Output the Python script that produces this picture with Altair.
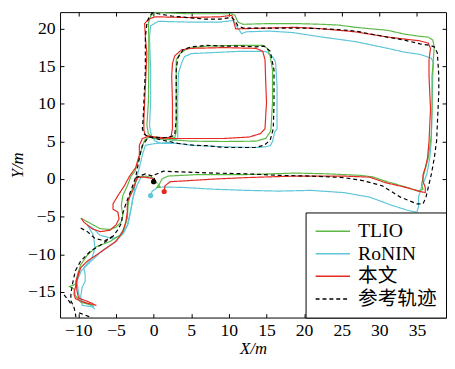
import altair as alt
import pandas as pd

SERIES = ["TLIO", "RoNIN", "本文", "参考轨迹"]
COLORS = ["#5cb946", "#5ec6d9", "#e52a24", "#000000"]
DASHES = [[1, 0], [1, 0], [1, 0], [4, 3]]
XTICKS = [-10, -5, 0, 5, 10, 15, 20, 25, 30, 35]
YTICKS = [-15, -10, -5, 0, 5, 10, 15, 20]

# ---- trajectories (x, y in metres) ----
tlio_segments = [
    [(0.65, -0.9), (1.1, 0.0), (1.9, 0.4), (5.8, 0.6), (12.3, 0.6), (18.8, 0.8), (23.1, 0.7),
     (27.4, 0.5), (29.1, 0.3), (30.9, -0.3), (33.5, -1.05), (35.2, -1.6), (35.8, -1.35),
     (35.6, -0.7), (35.9, 0.6), (36.5, 2.8), (36.9, 5.8), (37.0, 9.3), (37.0, 13.7), (37.2, 16.3),
     (37.3, 17.6), (37.1, 18.5), (36.5, 18.9), (35.4, 19.0), (33.3, 19.3), (31.1, 19.8),
     (28.9, 20.0), (26.8, 20.2), (24.6, 20.5), (22.4, 20.6), (18.8, 20.7), (15.3, 20.7),
     (11.9, 20.6), (11.2, 20.9), (10.8, 21.8), (10.4, 22.0), (8.8, 22.0), (4.5, 22.0),
     (0.2, 22.2), (-0.4, 21.7), (-0.7, 20.7), (-0.65, 18.9), (-0.65, 14.5), (-0.7, 10.2),
     (-0.9, 7.15), (-0.7, 6.05), (0.0, 5.4), (2.8, 5.2), (5.0, 5.05), (9.3, 5.0), (13.6, 5.05),
     (14.9, 5.4), (15.5, 6.3), (15.6, 6.7), (15.7, 8.5), (15.8, 10.2), (15.8, 14.5), (15.5, 16.3),
     (15.1, 17.4), (14.5, 17.8), (11.4, 17.8), (7.1, 17.7), (4.5, 17.4), (3.5, 16.7), (3.0, 15.9),
     (3.0, 15.0), (3.0, 10.6), (3.0, 6.3), (2.8, 5.5), (1.0, 5.5), (-0.6, 5.6), (-1.2, 5.2),
     (-1.6, 4.0), (-2.0, 2.5), (-2.5, 1.0), (-3.0, 0.4), (-3.5, -0.9), (-4.1, -2.2), (-4.3, -3.5),
     (-4.1, -4.8), (-4.3, -5.7), (-5.0, -6.4), (-5.8, -6.7), (-7.1, -6.6), (-8.4, -5.9),
     (-9.7, -5.2)],
    [(0.5, -0.6), (0.0, 0.1), (-1.0, 0.4), (-2.0, 0.3), (-2.6, -0.8), (-3.2, -2.2), (-3.4, -3.6),
     (-3.5, -5.2), (-3.9, -6.5), (-4.5, -7.5), (-5.8, -8.3), (-7.6, -9.0), (-8.8, -10.1),
     (-9.7, -11.4), (-10.1, -12.7), (-10.4, -14.0), (-11.2, -14.3), (-10.6, -14.6),
     (-10.4, -15.5), (-9.7, -16.4), (-8.0, -16.8)],
]

ronin_segments = [
    [(-0.4, -2.2), (-0.2, -1.6), (0.65, -1.05), (3.7, -1.1), (8.0, -1.35), (12.3, -1.5),
     (16.6, -1.6), (20.9, -1.5), (25.3, -1.8), (28.7, -2.4), (31.7, -3.5), (33.9, -4.2),
     (35.0, -4.4), (35.2, -3.7), (35.2, -2.4), (35.6, -1.1), (36.3, 0.6), (36.7, 2.8), (36.9, 5.0),
     (37.0, 9.3), (37.1, 13.7), (37.2, 15.4), (36.9, 16.1), (35.4, 16.6), (33.3, 16.9),
     (31.1, 17.4), (26.8, 18.3), (22.4, 18.9), (18.5, 19.5), (15.3, 19.7), (12.3, 19.6),
     (11.7, 19.35), (11.0, 20.4), (10.6, 21.1), (8.8, 20.9), (4.5, 20.9), (0.65, 21.0),
     (-0.4, 20.4), (-0.55, 18.9), (-0.4, 14.5), (-0.4, 10.2), (-0.55, 7.15), (-0.3, 5.8),
     (0.2, 5.05), (1.1, 4.75), (3.2, 4.75), (5.0, 4.5), (9.3, 4.3), (13.6, 4.2), (14.9, 4.3),
     (15.5, 4.45), (15.8, 5.0), (16.1, 6.3), (16.4, 6.7), (16.4, 12.4), (16.2, 15.6), (15.8, 16.3),
     (14.9, 17.0), (11.4, 17.0), (7.1, 16.8), (5.0, 16.7), (4.1, 16.3), (3.7, 15.4), (3.3, 14.1),
     (3.2, 10.6), (3.2, 5.4), (2.0, 4.9), (0.0, 4.7), (-1.1, 4.5), (-1.5, 3.2), (-1.9, 1.5),
     (-2.4, -0.3), (-2.6, -1.8), (-3.0, -4.0), (-3.5, -6.1), (-4.3, -7.5), (-5.4, -7.9),
     (-7.1, -7.5), (-8.0, -6.6), (-8.8, -6.1)],
    [(-8.8, -6.1), (-8.0, -7.5), (-7.8, -9.2), (-8.2, -10.5), (-9.3, -11.8), (-9.1, -12.7),
     (-9.1, -13.6), (-9.5, -14.4), (-9.7, -15.7), (-9.5, -16.8), (-8.2, -17.0), (-7.8, -17.3)],
    [(-1.5, 0.6), (-2.2, -0.8), (-2.8, -2.6), (-3.1, -4.5), (-3.4, -6.0), (-4.0, -7.2),
     (-5.2, -8.4), (-6.8, -9.5), (-8.2, -10.8), (-9.6, -12.2), (-10.2, -13.6), (-10.0, -15.0),
     (-9.8, -16.0), (-8.8, -16.6), (-7.9, -17.0)],
]

ours_segments = [
    [(1.4, -1.65), (1.5, -0.9), (2.2, -0.35), (3.7, -0.26), (8.0, 0.0), (12.3, 0.2), (18.8, 0.4),
     (25.3, 0.4), (28.7, 0.26), (30.9, -0.5), (33.5, -1.1), (35.4, -1.65), (36.1, -1.8),
     (36.1, -1.1), (35.8, -0.3), (35.8, 0.6), (36.1, 1.5), (36.4, 2.8), (36.6, 5.0), (36.7, 7.2),
     (36.8, 9.3), (36.7, 11.5), (36.6, 13.7), (36.6, 15.9), (36.8, 17.4), (36.5, 18.1),
     (35.4, 18.4), (31.1, 18.9), (26.8, 19.6), (22.4, 20.0), (18.8, 20.2), (15.3, 20.1),
     (11.4, 20.0), (10.9, 20.0), (10.6, 21.1), (10.4, 21.8), (8.8, 21.6), (4.5, 21.5), (0.2, 21.6),
     (-0.65, 21.3), (-1.2, 20.7), (-1.1, 18.9), (-0.9, 16.7), (-1.0, 14.5), (-1.1, 12.4),
     (-1.2, 10.2), (-1.3, 8.0), (-1.3, 6.5), (-1.1, 5.8), (0.2, 5.6), (2.4, 5.4), (5.0, 5.4),
     (9.3, 5.4), (12.7, 5.6), (14.2, 6.05), (14.8, 6.7), (14.9, 8.5), (15.0, 10.2), (14.9, 12.8),
     (14.8, 15.9), (14.5, 17.0), (13.6, 17.4), (9.3, 17.5), (5.0, 17.4), (3.7, 17.2), (2.8, 16.4),
     (2.5, 15.4), (2.4, 13.7), (2.5, 10.2), (2.5, 6.7), (2.3, 5.6), (1.1, 5.4), (-0.65, 5.7),
     (-1.5, 5.4), (-1.9, 4.5), (-1.9, 3.2), (-2.4, 1.5), (-3.2, 0.4), (-3.9, -0.9), (-4.75, -2.2),
     (-5.4, -3.3), (-5.4, -4.0), (-4.75, -4.4), (-4.6, -5.3), (-5.0, -6.1), (-5.8, -6.8),
     (-7.1, -7.0), (-8.2, -6.6), (-9.3, -5.7), (-9.6, -5.2)],
    [(0.2, -0.5), (-0.2, 0.1), (-1.3, 0.26), (-2.2, 0.2), (-2.7, -1.35), (-3.5, -3.1),
     (-3.5, -4.4), (-3.7, -5.7), (-4.1, -7.0), (-5.0, -8.3), (-6.3, -9.2), (-7.6, -10.1),
     (-8.8, -10.9), (-9.7, -11.8), (-10.1, -13.1), (-10.4, -14.4), (-10.6, -15.3),
     (-10.4, -15.9), (-9.3, -16.4), (-7.6, -16.8)],
    [(-9.9, -12.2), (-10.3, -13.5), (-10.2, -14.8), (-10.0, -15.8), (-9.0, -16.2), (-8.0, -16.6)],
]

ref_segments = [
    [(0.0, -0.35), (0.2, 0.6), (1.3, 1.05), (3.7, 0.95), (8.0, 0.8), (12.3, 0.7), (16.6, 0.5),
     (20.9, 0.4), (25.3, 0.2), (27.8, -0.2), (30.4, -0.9), (31.1, -1.35), (32.8, -2.4),
     (35.0, -3.3), (35.8, -3.3), (36.2, -2.4), (36.5, -1.1), (36.9, 0.6), (37.3, 2.8), (37.6, 5.0),
     (37.7, 7.1), (37.8, 9.3), (37.9, 11.5), (37.9, 13.7), (37.8, 15.4), (37.7, 16.8),
     (37.3, 17.6), (36.7, 17.8), (35.4, 18.0), (33.3, 18.5), (31.1, 18.9), (28.9, 19.3),
     (26.8, 19.7), (24.6, 19.9), (22.4, 20.0), (20.3, 20.1), (15.3, 20.1), (11.9, 20.1),
     (11.2, 20.4), (10.8, 21.1), (10.4, 21.5), (8.8, 21.3), (6.7, 21.3), (4.5, 21.5), (2.4, 21.7),
     (0.65, 22.0), (-0.2, 22.1), (-0.65, 21.5), (-0.9, 20.7), (-1.1, 18.9), (-1.1, 16.7),
     (-1.1, 14.5), (-1.2, 12.4), (-1.3, 10.2), (-1.4, 8.0), (-1.5, 6.7), (-1.3, 6.05),
     (-0.65, 5.6), (1.1, 5.2), (3.2, 4.75), (5.4, 4.5), (7.1, 4.45), (9.3, 4.2), (13.4, 4.2),
     (14.7, 4.5), (15.5, 5.2), (15.9, 6.7), (16.0, 10.2), (16.0, 14.5), (15.5, 17.0), (14.7, 17.7),
     (13.6, 17.6), (11.4, 17.7), (9.3, 17.7), (7.1, 17.8), (5.0, 17.6), (3.9, 17.2), (3.2, 16.1),
     (3.0, 14.5), (3.0, 10.2), (3.0, 8.0), (2.8, 5.8), (1.5, 5.5), (-0.65, 5.6), (-1.5, 4.5),
     (-1.9, 2.8), (-2.2, 1.2), (-2.4, 0.2), (-2.8, -0.9), (-3.2, -2.0), (-3.7, -3.3), (-4.1, -4.6),
     (-4.3, -5.9), (-4.8, -6.8), (-5.4, -7.6), (-6.5, -8.2), (-7.8, -7.9), (-8.8, -7.0),
     (-9.9, -6.4)],
    [(-5.4, -7.6), (-7.1, -8.8), (-8.4, -9.6), (-9.7, -10.9), (-10.4, -12.2), (-10.8, -14.0),
     (-11.0, -15.3), (-11.0, -16.2), (-10.6, -17.0), (-10.4, -17.9), (-10.3, -18.6)],
    [(-11.9, -15.4), (-11.2, -16.3), (-10.8, -16.9)],
    [(-9.9, -17.8), (-8.6, -18.3), (-8.0, -18.6)],
    [(-2.4, 0.2), (-1.1, 0.7), (-0.2, 0.4), (0.0, -0.35)],
]

# start markers
marker_x = [-0.4, 0.65, 1.4, 0.0]
marker_y = [-2.2, -0.9, -1.65, -0.35]
marker_color = ["#5ec6d9", "#5cb946", "#e52a24", "#000000"]
marker_shape = ["circle", "triangle-up", "circle", "circle"]

rows = []
for name, segs in [("RoNIN", ronin_segments), ("TLIO", tlio_segments),
                   ("本文", ours_segments), ("参考轨迹", ref_segments)]:
    for si, seg in enumerate(segs):
        for i, (x, y) in enumerate(seg):
            rows.append({"series": name, "seg": f"{name}-{si}", "order": i, "x": x, "y": y})
df = pd.DataFrame(rows)

mk = pd.DataFrame({"x": marker_x, "y": marker_y, "color": marker_color, "shape": marker_shape})

FONT = "Liberation Serif, Noto Sans CJK SC"
x_scale = alt.Scale(domain=[-12.44, 38.86], nice=False, zero=False)
y_scale = alt.Scale(domain=[-18.43, 22.22], nice=False, zero=False)

legend = alt.Legend(
    title=None, orient="bottom-right", offset=0, strokeColor="black", fillColor="white",
    padding=9, labelFont=FONT, labelFontSize=20, labelColor="black",
    symbolType="M-1,0H3", symbolSize=306, symbolStrokeWidth=1.5, rowPadding=3,
    labelOffset=24.5, cornerRadius=0, symbolOpacity=1,
)

# inward ticks (negative tick length given as an expression)
axis_common = dict(domain=False, grid=False, tickSize=alt.ExprRef(expr="-4"), minExtent=0,
                   labelFont=FONT, labelFontSize=18, labelColor="black", titleFont=FONT,
                   titleFontSize=17, titleFontWeight="normal", titleColor="black",
                   tickColor="black", tickWidth=1)

lines = alt.Chart(df).mark_line(strokeWidth=1.2, clip=True).encode(
    x=alt.X("x:Q", scale=x_scale,
            axis=alt.Axis(title="X/m", titleFontStyle="italic", values=XTICKS, orient="bottom",
                          labelPadding=8, titlePadding=2, **axis_common)),
    y=alt.Y("y:Q", scale=y_scale,
            axis=alt.Axis(title="Y/m", titleFontStyle="italic", values=YTICKS, orient="left",
                          labelPadding=9, titlePadding=1, **axis_common)),
    color=alt.Color("series:N", scale=alt.Scale(domain=SERIES, range=COLORS), legend=legend),
    strokeDash=alt.StrokeDash("series:N", scale=alt.Scale(domain=SERIES, range=DASHES),
                              legend=legend),
    detail="seg:N",
    order="order:Q",
)

pts = alt.Chart(mk).mark_point(filled=True, opacity=1, clip=True).encode(
    x=alt.X("x:Q", scale=x_scale,
            axis=alt.Axis(orient="top", labels=False, title=None, values=XTICKS, **axis_common)),
    y=alt.Y("y:Q", scale=y_scale,
            axis=alt.Axis(orient="right", labels=False, title=None, values=YTICKS, **axis_common)),
    color=alt.Color("color:N", scale=None),
    shape=alt.Shape("shape:N", scale=None),
    size=alt.value(28),
)

chart = (
    alt.layer(lines, pts)
    .resolve_axis(x="independent", y="independent")
    .properties(width=447, height=352, padding=0, background="white",
                autosize=alt.AutoSizeParams(type="fit", contains="padding"))
    .configure_view(stroke="black", strokeWidth=1)
)

chart.save("out.html", embed_options={"renderer": "svg", "actions": False})
